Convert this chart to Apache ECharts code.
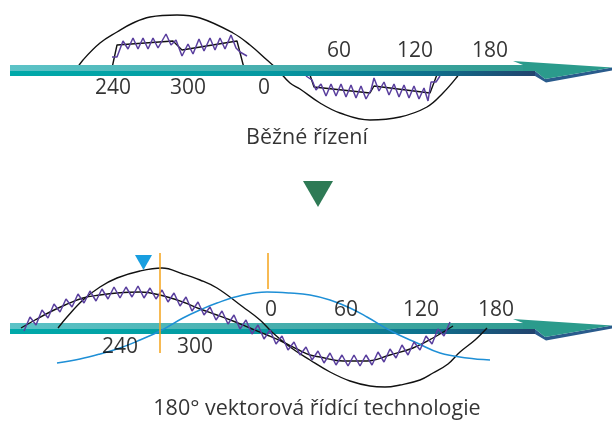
<!DOCTYPE html>
<html>
<head>
<meta charset="utf-8">
<script src="https://cdn.jsdelivr.net/npm/echarts@6/dist/echarts.min.js"></script>
<style>
  html, body { margin: 0; padding: 0; background: #fff; }
  #chart { width: 612px; height: 421px; }
</style>
</head>
<body>
<div id="chart"></div>
<script>
// plot space is in picture units: x 0..612 left->right, y 0..421 top->bottom

// ---- top panel (conventional control)
const topSine = [[76, 70], [83, 60], [100, 43], [117, 32], [133, 23], [150, 17], [177, 15], [200, 18], [233, 33], [250, 45], [267, 60], [277, 69], [290, 83], [300, 89], [320, 103], [340, 113], [370, 120], [400, 117], [427, 107], [443, 93], [457, 77], [460, 72]];
const topStepPos = [[112, 68], [117, 45], [173, 41], [182, 50], [237, 41], [244, 68]];
const topStepNeg = [[309, 72], [314, 87], [370, 93], [374, 86], [430, 93], [438, 72]];
const topRipplePos = [[112, 57], [117, 57], [123, 41], [128, 49], [133, 38], [138, 49], [143, 38], [148, 49], [153, 38], [158, 48], [166, 34], [171, 45], [176, 40], [182, 56], [188, 44], [193, 54], [199, 39], [204, 51], [210, 38], [215, 50], [220, 38], [225, 49], [231, 35], [236, 48], [240, 52], [247, 56]];
const topRippleNeg = [[306, 76], [312, 80], [316, 90], [321, 84], [326, 96], [331, 84], [336, 96], [341, 84], [346, 97], [351, 85], [356, 98], [361, 86], [366, 99], [371, 90], [374, 78], [379, 91], [384, 82], [389, 95], [394, 84], [399, 97], [404, 85], [409, 98], [414, 86], [419, 99], [424, 88], [428, 101], [431, 82], [436, 82], [440, 76]];

// ---- bottom panel (180 deg vector control)
const botOuter = [[58, 328], [67, 317], [83, 300], [100, 287], [117, 278], [140, 271], [162, 268], [183, 274], [200, 280], [217, 288], [243, 307], [260, 320], [273, 333], [290, 347], [310, 360], [330, 372], [350, 381], [370, 386], [385, 387], [400, 385], [420, 380], [433, 373], [448, 364], [460, 352], [475, 340], [487, 328]];
const botInner = [[21, 328], [35, 320], [50, 312], [65, 305], [83, 298], [100, 295], [117, 293], [140, 292], [160, 295], [183, 302], [200, 309], [217, 315], [233, 321], [250, 328], [267, 335], [283, 342], [297, 349], [310, 355], [320, 357], [343, 361], [367, 361], [390, 355], [413, 348], [433, 338], [453, 326]];
const botBlue = [[57, 363], [80, 359], [100, 354], [120, 348], [140, 340], [160, 331], [183, 318], [200, 310], [217, 303], [243, 295], [267, 292], [290, 293], [310, 295], [330, 300], [350, 308], [367, 317], [393, 332], [417, 343], [440, 353], [467, 358], [490, 360]];
const botRipple = [[24, 331], [30, 317], [36, 325], [42, 310], [48, 318], [54, 304], [60, 312], [66, 299], [72, 307], [78, 294], [84, 303], [90, 291], [96, 301], [102, 289], [108, 299], [114, 287], [120, 298], [126, 287], [132, 297], [138, 286], [144, 298], [150, 288], [156, 299], [162, 290], [168, 302], [174, 293], [180, 306], [186, 297], [192, 311], [198, 302], [204, 315], [210, 307], [216, 320], [222, 311], [228, 324], [234, 315], [240, 329], [246, 320], [252, 334], [258, 325], [264, 339], [270, 330], [276, 344], [282, 336], [288, 350], [294, 342], [300, 355], [306, 347], [312, 360], [318, 351], [324, 363], [330, 353], [336, 365], [342, 355], [348, 366], [354, 355], [360, 366], [366, 355], [372, 365], [378, 352], [384, 362], [390, 349], [396, 358], [402, 345], [408, 355], [414, 342], [420, 350], [426, 336], [432, 344], [438, 329], [444, 336], [450, 322]];
const markerA = [[160, 253], [160, 353]];
const markerB = [[268, 253], [268, 289]];

// arrows: [start x, tip x, centre y]
const arrows = [[10, 612, 70], [10, 612, 328]];

// angle labels
const angleLabels = ['240', '300', '0', '60', '120', '180'];
const topLabelX = [113, 188, 264, 339, 415, 490];
const topLabelY = [88, 88, 88, 51, 51, 51];
const botLabelX = [120, 195, 271, 346, 421, 496];
const botLabelY = [347, 347, 310, 310, 310, 310];

const captions = ['Běžné řízení', '180° vektorová řídící technologie'];
const captionX = [307, 317];
const captionY = [138, 409];

const FONT = "'Open Sans', 'Noto Sans', sans-serif";

const chart = echarts.init(document.getElementById('chart'));

function curve(data, color, width, z, smooth) {
  return {
    type: 'line',
    data: data,
    smooth: smooth,
    showSymbol: false,
    silent: true,
    z: z,
    lineStyle: { color: color, width: width },
  };
}

function textSeries(names, xs, ys, size) {
  return {
    type: 'scatter',
    symbolSize: 0,
    silent: true,
    z: 10,
    data: names.map((n, i) => ({ name: n, value: [xs[i], ys[i]] })),
    label: {
      show: true,
      position: 'inside',
      formatter: '{b}',
      color: '#000',
      fontSize: size,
      fontFamily: FONT,
    },
  };
}

chart.setOption({
  animation: false,
  grid: { left: 0, right: 0, top: 0, bottom: 0 },
  xAxis: { type: 'value', min: 0, max: 612, show: false },
  yAxis: { type: 'value', min: 0, max: 421, inverse: true, show: false },
  series: [
    // top panel sits under its arrow
    curve(topSine, '#111', 1.4, 1, 0.4),
    curve(topStepPos, '#111', 1.4, 1, false),
    curve(topStepNeg, '#111', 1.4, 1, false),
    curve(topRipplePos, '#5a3f9e', 1.5, 1, false),
    curve(topRippleNeg, '#5a3f9e', 1.5, 1, false),
    {
      type: 'custom',
      silent: true,
      z: 2,
      data: arrows,
      renderItem: function (params, api) {
        const a = api.coord([api.value(0), api.value(2)]);
        const b = api.coord([api.value(1), api.value(2)]);
        const x0 = a[0], tip = b[0], cy = a[1];
        const bandEnd = tip - 77, headX = tip - 99;
        return {
          type: 'group',
          children: [
            {
              type: 'polygon',
              shape: { points: [[x0, cy - 5], [bandEnd, cy - 5], [bandEnd, cy + 1], [x0, cy + 1]] },
              style: {
                fill: new echarts.graphic.LinearGradient(0, 0, 1, 0, [
                  { offset: 0, color: '#5cc3c7' },
                  { offset: 0.6, color: '#42aaa8' },
                  { offset: 1, color: '#2f9a8f' },
                ]),
              },
            },
            {
              type: 'polygon',
              shape: { points: [[x0, cy + 1], [bandEnd, cy + 1], [bandEnd, cy + 6], [x0, cy + 6]] },
              style: {
                fill: new echarts.graphic.LinearGradient(0, 0, 1, 0, [
                  { offset: 0, color: '#00a9a9' },
                  { offset: 0.5, color: '#0598a1' },
                  { offset: 0.8, color: '#0f6f8c' },
                  { offset: 1, color: '#22436e' },
                ]),
              },
            },
            {
              type: 'polygon',
              shape: { points: [[bandEnd, cy + 1], [tip - 67, cy + 9], [tip, cy - 2.5], [tip, cy + 0.5], [tip - 66, cy + 12.5], [bandEnd, cy + 6]] },
              style: { fill: '#2a5b8c' },
            },
            {
              type: 'polygon',
              shape: { points: [[headX, cy - 9], [tip, cy - 2.5], [tip - 67, cy + 9], [bandEnd, cy + 1], [headX + 10, cy + 1], [headX + 10, cy - 5]] },
              style: { fill: '#2b9b8c' },
            },
          ],
        };
      },
    },
    // bottom panel sits over its arrow
    curve(botOuter, '#111', 1.4, 3, 0.4),
    curve(botInner, '#111', 1.4, 3, 0.4),
    curve(botBlue, '#1e8fd6', 1.5, 3, 0.4),
    curve(botRipple, '#5a3f9e', 1.5, 4, false),
    curve(markerA, '#f5a31a', 1.5, 5, false),
    curve(markerB, '#f5a31a', 1.5, 5, false),
    {
      type: 'scatter',
      silent: true,
      z: 6,
      symbol: 'triangle',
      symbolRotate: 180,
      data: [
        { value: [318, 194], symbolSize: [30, 26], itemStyle: { color: '#2e7a55', opacity: 1 } },
        { value: [143.5, 262.5], symbolSize: [17, 15], itemStyle: { color: '#189ee0', opacity: 1 } },
      ],
    },
    textSeries(angleLabels, topLabelX, topLabelY, 21),
    textSeries(angleLabels, botLabelX, botLabelY, 21),
    textSeries(captions, captionX, captionY, 21.5),
  ],
});

window.addEventListener('resize', () => chart.resize());
</script>
</body>
</html>
